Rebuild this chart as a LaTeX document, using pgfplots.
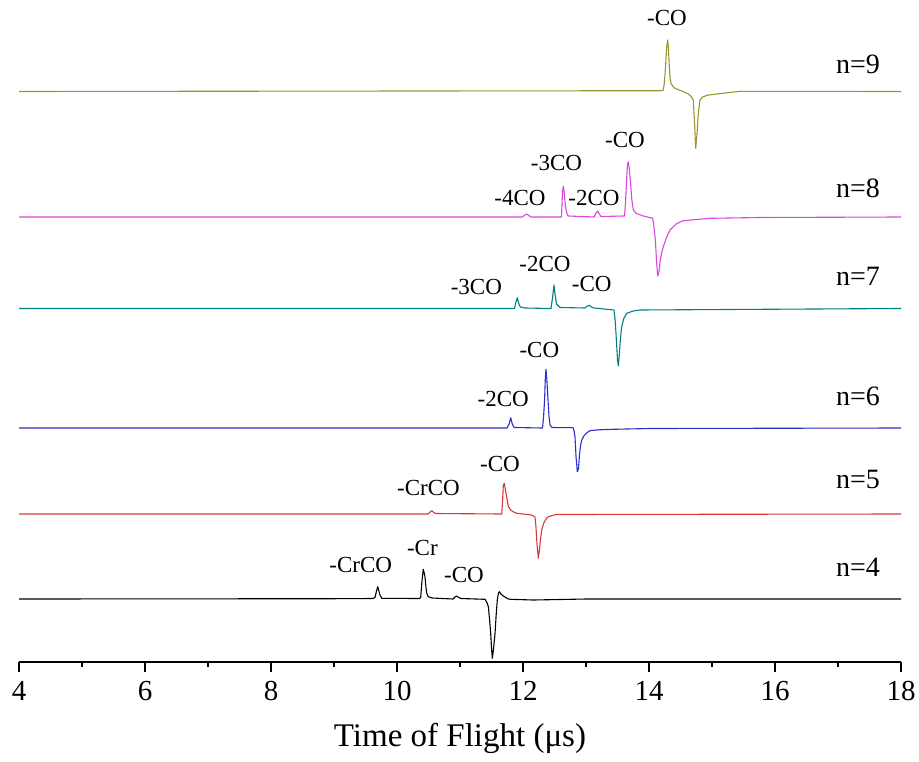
\documentclass[border=0pt]{standalone}
\usepackage{fontspec}
\setmainfont{Liberation Serif}
\usepackage{pgfplots}
\pgfplotsset{compat=1.18}

\definecolor{cOlive}{RGB}{150,150,45}
\definecolor{cMag}{RGB}{220,70,220}
\definecolor{cTeal}{RGB}{0,128,128}
\definecolor{cBlue}{RGB}{45,45,205}
\definecolor{cRed}{RGB}{218,55,55}

\newcommand{\annot}{\fontsize{11.5}{13}\selectfont}
\newcommand{\nlab}{\fontsize{14}{16}\selectfont}

\begin{document}
\begin{tikzpicture}
\begin{axis}[
    scale only axis,
    width=441pt, height=331pt,
    xmin=4, xmax=18, ymin=0, ymax=662,
    axis x line*=bottom, axis y line=none,
    x axis line style={line width=1pt},
    xtick={4,6,...,18}, minor x tick num=1,
    tick align=outside,
    major tick length=5pt, minor tick length=2.5pt,
    every tick/.style={black, line width=1pt},
    /pgf/number format/assume math mode=true,
    xticklabel style={font=\fontsize{14.5}{16}\selectfont, inner xsep=0pt, yshift=-1pt},
    xlabel={Time of Flight (μs)},
    xlabel style={font=\fontsize{16.5}{18}\selectfont, inner sep=1pt, yshift=-7pt},
    clip=false,
    every axis plot/.append style={line width=0.55pt, line join=round},
]
% n=4
\addplot[black] coordinates {
 (4,63) (9.0,63.3)
 (9.62,63.5) (9.651,64.7) (9.675,71) (9.694,75.3) (9.712,71) (9.730,67) (9.757,63.7)
 (10.36,63.5) (10.376,64.7) (10.395,80) (10.417,92.7) (10.432,89) (10.444,85.3) (10.458,76) (10.471,68.7) (10.497,65.3) (10.556,64)
 (10.889,63) (10.92,65) (10.948,66) (10.98,64.5) (11.016,63.5)
 (11.397,62.7) (11.430,59) (11.450,55.3) (11.470,42) (11.487,28.7) (11.500,14) (11.513,3.7) (11.530,12) (11.556,28.7) (11.575,48) (11.592,62)
 (11.610,69) (11.624,70.3) (11.650,68) (11.688,66) (11.75,63.5) (11.794,62.7) (12.164,62) (13,63) (18,63)
};
% n=5
\addplot[cRed] coordinates {
 (4,148) (10.492,148) (10.525,150) (10.551,151.3) (10.585,149.5) (10.619,148.5)
 (11.662,148) (11.675,160) (11.688,177) (11.703,178.7) (11.716,174) (11.730,168.7) (11.767,155.3) (11.805,152) (11.850,150) (11.900,148.7)
 (12.138,147) (12.190,145) (12.205,136) (12.222,118) (12.243,103.7) (12.260,112) (12.280,124) (12.297,132) (12.330,139) (12.365,143) (12.402,145.3) (12.524,147.5) (18,148)
};
% n=6
\addplot[cBlue] coordinates {
 (4,234) (11.746,234) (11.78,238) (11.805,244.3) (11.83,238) (11.857,234.5)
 (12.310,234) (12.326,245) (12.341,260) (12.355,285) (12.365,292.7) (12.378,283) (12.397,262) (12.412,246) (12.429,237) (12.460,234.5)
 (12.794,234.3) (12.812,231) (12.825,225) (12.842,205) (12.862,190.3) (12.880,193) (12.897,208) (12.915,217) (12.932,222) (12.97,226.5) (13.01,229) (13.063,231.3)
 (13.20,232.2) (13.429,232.7) (14.016,233.5) (18,234)
};
% n=7
\addplot[cTeal] coordinates {
 (4,353.5) (11.865,353.5) (11.888,360) (11.910,364.3) (11.935,358) (11.960,355) (12.032,354)
 (12.444,353.5) (12.47,365) (12.492,377) (12.51,367) (12.532,358) (12.587,354.5)
 (12.984,354) (13.02,356) (13.052,356.7) (13.09,355) (13.127,354)
 (13.444,352) (13.465,340) (13.484,320) (13.500,302) (13.513,296) (13.527,306) (13.540,318) (13.555,329) (13.567,335.3) (13.60,343.5) (13.646,348.7)
 (13.75,351) (13.857,352) (18,353.5)
};
% n=8
\addplot[cMag] coordinates {
 (4,445) (11.984,445) (12.02,446.5) (12.059,448) (12.09,446.5) (12.127,445)
 (12.611,445) (12.627,470) (12.640,476) (12.653,470) (12.667,460) (12.690,450) (12.714,446)
 (13.127,445) (13.16,449) (13.186,451) (13.21,448) (13.238,445.5)
 (13.611,446) (13.628,460) (13.643,480) (13.658,497) (13.671,500.3) (13.688,493) (13.706,480) (13.728,462) (13.751,452) (13.80,448.5) (13.910,446) (14.059,443.7)
 (14.085,432) (14.103,420) (14.120,400) (14.138,386) (14.158,390) (14.175,400) (14.200,409) (14.227,415.3) (14.28,425) (14.333,432) (14.43,438) (14.540,441.3)
 (14.968,443.7) (15.762,444.5) (18,445)
};
% n=9
\addplot[cOlive] coordinates {
 (4,570.5) (14.20,571.3) (14.227,572) (14.245,580) (14.262,595) (14.280,615) (14.297,622) (14.310,612) (14.322,595.3) (14.335,584) (14.349,578.7) (14.38,575.5) (14.413,573.7)
 (14.52,571) (14.624,568) (14.67,565.5) (14.703,562) (14.722,540) (14.741,513.7) (14.762,528) (14.783,548.7) (14.810,562) (14.85,565) (14.93,566.8) (15.075,568)
 (15.444,570.7) (18,570.5)
};

% peak labels
\node[font=\annot, anchor=base] at (axis cs:9.425,89.3) {-CrCO};
\node[font=\annot, anchor=base] at (axis cs:10.402,107) {-Cr};
\node[font=\annot, anchor=base] at (axis cs:11.063,79.3) {-CO};
\node[font=\annot, anchor=base] at (axis cs:10.5,167) {-CrCO};
\node[font=\annot, anchor=base] at (axis cs:11.635,191) {-CO};
\node[font=\annot, anchor=base] at (axis cs:11.687,255.3) {-2CO};
\node[font=\annot, anchor=base] at (axis cs:12.259,304.7) {-CO};
\node[font=\annot, anchor=base] at (axis cs:11.259,368) {-3CO};
\node[font=\annot, anchor=base] at (axis cs:12.349,390.3) {-2CO};
\node[font=\annot, anchor=base] at (axis cs:13.090,370.3) {-CO};
\node[font=\annot, anchor=base] at (axis cs:11.952,457) {-4CO};
\node[font=\annot, anchor=base] at (axis cs:13.127,457) {-2CO};
\node[font=\annot, anchor=base] at (axis cs:12.532,492) {-3CO};
\node[font=\annot, anchor=base] at (axis cs:13.619,515) {-CO};
\node[font=\annot, anchor=base] at (axis cs:14.286,636) {-CO};

% series labels
\node[font=\nlab, anchor=base east] at (axis cs:17.778,588.7) {n=9};
\node[font=\nlab, anchor=base east] at (axis cs:17.778,464.7) {n=8};
\node[font=\nlab, anchor=base east] at (axis cs:17.778,377) {n=7};
\node[font=\nlab, anchor=base east] at (axis cs:17.778,257) {n=6};
\node[font=\nlab, anchor=base east] at (axis cs:17.778,173.7) {n=5};
\node[font=\nlab, anchor=base east] at (axis cs:17.778,85.3) {n=4};
\end{axis}
\path ([shift={(-9.5pt,-49.5pt)}]current axis.south west) rectangle ([shift={(9pt,0pt)}]current axis.north east);
\end{tikzpicture}
\end{document}
